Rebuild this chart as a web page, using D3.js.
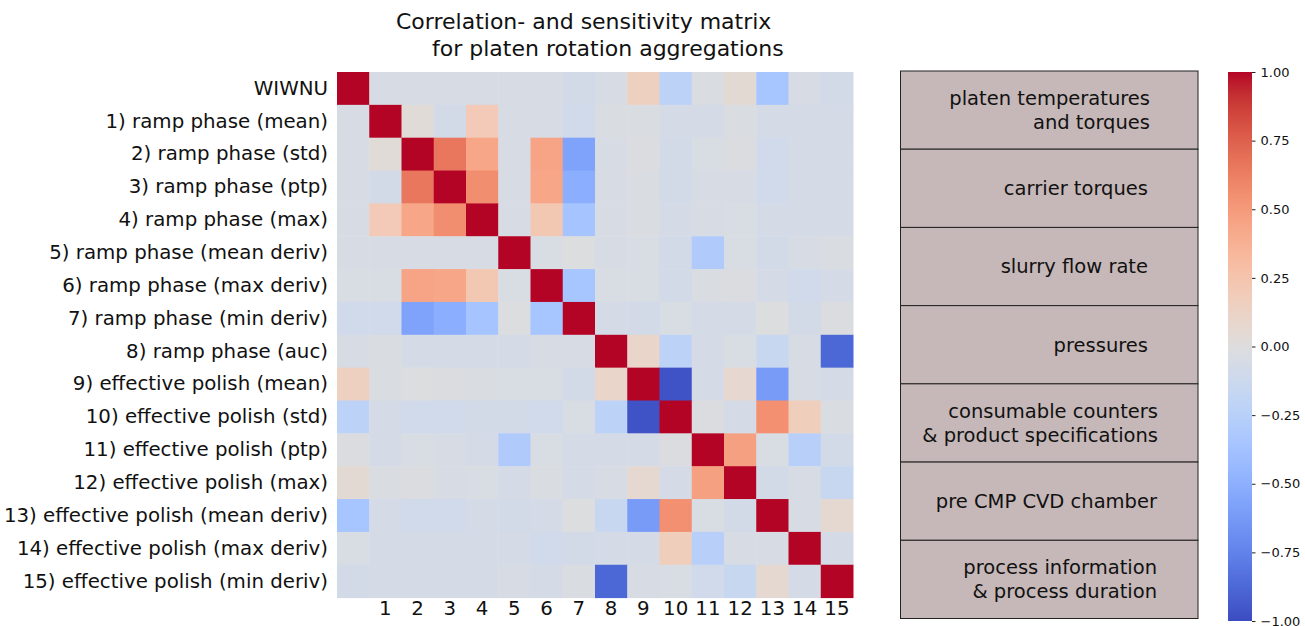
<!DOCTYPE html>
<html>
<head>
<meta charset="utf-8">
<title>Correlation matrix</title>
<script src="https://d3js.org/d3.v7.min.js"></script>
<style>
  body { margin: 0; background: #fff; }
  text { font-family: "DejaVu Sans", Verdana, sans-serif; fill: #111; }
</style>
</head>
<body>
<script>
// row / column labels
var rowLabels = ["WIWNU",
  "1) ramp phase (mean)", "2) ramp phase (std)", "3) ramp phase (ptp)", "4) ramp phase (max)",
  "5) ramp phase (mean deriv)", "6) ramp phase (max deriv)", "7) ramp phase (min deriv)",
  "8) ramp phase (auc)", "9) effective polish (mean)", "10) effective polish (std)",
  "11) effective polish (ptp)", "12) effective polish (max)", "13) effective polish (mean deriv)",
  "14) effective polish (max deriv)", "15) effective polish (min deriv)"];
var colLabels = ["", "1", "2", "3", "4", "5", "6", "7", "8", "9", "10", "11", "12", "13", "14", "15"];

// correlation values
var matrix = [
  [ 1.00,-0.05,-0.05,-0.05,-0.05,-0.05,-0.05,-0.08,-0.05, 0.15,-0.22,-0.03, 0.05,-0.35,-0.05,-0.08],
  [-0.05, 1.00, 0.03,-0.08, 0.20,-0.05,-0.05,-0.10,-0.03,-0.03,-0.06,-0.06,-0.03,-0.07,-0.07,-0.07],
  [-0.05, 0.03, 1.00, 0.66, 0.44,-0.05, 0.45,-0.58,-0.05,-0.02,-0.08,-0.04,-0.02,-0.10,-0.06,-0.06],
  [-0.05,-0.08, 0.66, 1.00, 0.56,-0.05, 0.44,-0.51,-0.05,-0.03,-0.08,-0.05,-0.05,-0.10,-0.06,-0.06],
  [-0.05, 0.20, 0.44, 0.56, 1.00,-0.05, 0.22,-0.36,-0.05,-0.03,-0.07,-0.05,-0.04,-0.07,-0.06,-0.06],
  [-0.05,-0.05,-0.05,-0.05,-0.05, 1.00,-0.04,-0.01,-0.05,-0.04,-0.08,-0.30,-0.04,-0.08,-0.05,-0.03],
  [-0.04,-0.04, 0.45, 0.44, 0.22,-0.04, 1.00,-0.35,-0.04,-0.04,-0.08,-0.03,-0.02,-0.07,-0.10,-0.07],
  [-0.10,-0.10,-0.58,-0.51,-0.36,-0.01,-0.35, 1.00,-0.06,-0.08,-0.04,-0.06,-0.06,-0.01,-0.08,-0.02],
  [-0.05,-0.03,-0.06,-0.06,-0.06,-0.06,-0.05,-0.05, 1.00, 0.10,-0.22,-0.06,-0.04,-0.15,-0.05,-0.88],
  [ 0.15,-0.03,-0.01,-0.02,-0.03,-0.04,-0.04,-0.08, 0.10, 1.00,-0.97,-0.06, 0.07,-0.62,-0.05,-0.06],
  [-0.22,-0.06,-0.10,-0.10,-0.08,-0.08,-0.10,-0.04,-0.22,-0.97, 1.00,-0.02,-0.06, 0.55, 0.17,-0.03],
  [-0.02,-0.06,-0.04,-0.05,-0.06,-0.30,-0.04,-0.07,-0.06,-0.06,-0.02, 1.00, 0.47,-0.04,-0.25,-0.08],
  [ 0.05,-0.03,-0.02,-0.05,-0.04,-0.06,-0.03,-0.07,-0.05, 0.06,-0.06, 0.47, 1.00,-0.08,-0.05,-0.15],
  [-0.35,-0.07,-0.10,-0.10,-0.07,-0.08,-0.07,-0.01,-0.15,-0.62, 0.55,-0.04,-0.08, 1.00,-0.05, 0.06],
  [-0.04,-0.06,-0.06,-0.06,-0.06,-0.06,-0.10,-0.08,-0.06,-0.06, 0.17,-0.25,-0.05,-0.05, 1.00,-0.07],
  [-0.08,-0.07,-0.07,-0.07,-0.07,-0.05,-0.07,-0.03,-0.88,-0.05,-0.04,-0.10,-0.15, 0.06,-0.07, 1.00]
];

var groupLabels = [
  ["platen temperatures", "and torques"],
  ["carrier torques"],
  ["slurry flow rate"],
  ["pressures"],
  ["consumable counters", "& product specifications"],
  ["pre CMP CVD chamber"],
  ["process information", "& process duration"]
];
var groupTextRight = [1150, 1148, 1148, 1148, 1158, 1157, 1157];

var cbTicks = [-1, -0.75, -0.5, -0.25, 0, 0.25, 0.5, 0.75, 1];

// coolwarm (Moreland) colour table
var coolwarm = ["#3b4cc0","#445acc","#4d68d7","#5775e1","#6282ea","#6c8ef1","#779af7","#82a5fb",
  "#8db0fe","#98b9ff","#a3c2ff","#aec9fd","#b8d0f9","#c2d5f4","#ccd9ee","#d5dbe6","#dddddd",
  "#e5d8d1","#ecd3c5","#f1ccb9","#f5c4ad","#f7bba0","#f7b194","#f7a687","#f49a7b","#f18d6f",
  "#ec7f63","#e57058","#de604d","#d55042","#cb3e38","#c0282f","#b40426"];

var W = 1305, H = 626;
var svg = d3.select("body").append("svg").attr("width", W).attr("height", H);

var color = d3.scaleSequential(d3.piecewise(d3.interpolateRgb, coolwarm)).domain([-1, 1]);

var x = d3.scaleBand().domain(d3.range(16)).range([337, 853]);
var y = d3.scaleBand().domain(d3.range(16)).range([72, 597.6]);

var cells = [];
matrix.forEach(function(row, i) {
  row.forEach(function(v, j) { cells.push({r: i, c: j, v: v}); });
});

svg.append("g").selectAll("rect")
  .data(cells)
  .enter().append("rect")
    .attr("x", function(d) { return x(d.c); })
    .attr("y", function(d) { return y(d.r); })
    .attr("width", x.bandwidth() + 0.5)
    .attr("height", y.bandwidth() + 0.5)
    .attr("fill", function(d) { return color(d.v); });

// row labels
var yAxis = svg.append("g")
  .attr("transform", "translate(337,0)")
  .call(d3.axisLeft(y).tickSize(0).tickPadding(9).tickFormat(function(i) { return rowLabels[i]; }));
yAxis.select(".domain").remove();
yAxis.selectAll("text").style("font-size", "19.8px").attr("font-family", null);

// column labels
var xAxis = svg.append("g")
  .attr("transform", "translate(0,597.6)")
  .call(d3.axisBottom(x).tickSize(0).tickPadding(3).tickFormat(function(i) { return colLabels[i]; }));
xAxis.select(".domain").remove();
xAxis.selectAll("text").style("font-size", "19.8px").attr("font-family", null);

// title
svg.append("text").attr("x", 396).attr("y", 29).style("font-size", "22px")
  .text("Correlation- and sensitivity matrix");
svg.append("text").attr("x", 432).attr("y", 56).style("font-size", "22px")
  .text("for platen rotation aggregations");

// group boxes
var gy = d3.scaleBand().domain(d3.range(groupLabels.length)).range([71, 618.5]);
var boxes = svg.append("g");
boxes.selectAll("rect")
  .data(groupLabels)
  .enter().append("rect")
    .attr("x", 900.5)
    .attr("y", function(d, i) { return gy(i); })
    .attr("width", 297.5)
    .attr("height", gy.bandwidth())
    .attr("fill", "#c6b8b8")
    .attr("stroke", "#222")
    .attr("stroke-width", 1);
boxes.selectAll("text.grp")
  .data(groupLabels)
  .enter().append("text")
    .attr("class", "grp")
    .attr("text-anchor", "end")
    .style("font-size", "19.5px")
    .each(function(d, i) {
      var t = d3.select(this);
      var mid = gy(i) + gy.bandwidth() / 2;
      var lh = 24.5;
      var top = mid - (d.length - 1) * lh / 2;
      d.forEach(function(line, k) {
        t.append("tspan")
          .attr("x", groupTextRight[i])
          .attr("y", top + k * lh)
          .attr("dy", "0.35em")
          .text(line);
      });
    });

// colorbar
var cbX = 1228, cbW = 24, cbTop = 72, cbBot = 621;
var defs = svg.append("defs");
var grad = defs.append("linearGradient").attr("id", "cbgrad")
  .attr("x1", 0).attr("y1", 1).attr("x2", 0).attr("y2", 0);
d3.range(0, 1.0001, 0.02).forEach(function(t) {
  grad.append("stop").attr("offset", t).attr("stop-color", color(-1 + 2 * t));
});
svg.append("rect").attr("x", cbX).attr("y", cbTop).attr("width", cbW)
  .attr("height", cbBot - cbTop).attr("fill", "url(#cbgrad)");

var cbScale = d3.scaleLinear().domain([-1, 1]).range([cbBot, cbTop]);
var cbAxis = svg.append("g")
  .attr("transform", "translate(" + (cbX + cbW) + ",0)")
  .call(d3.axisRight(cbScale).tickValues(cbTicks).tickSize(3.5).tickPadding(5)
    .tickFormat(function(v) { return d3.format(".2f")(v).replace("-", "\u2212"); }));
cbAxis.select(".domain").remove();
cbAxis.selectAll("text").style("font-size", "13px").attr("font-family", null);
cbAxis.selectAll("line").attr("stroke", "#222");
</script>
</body>
</html>
